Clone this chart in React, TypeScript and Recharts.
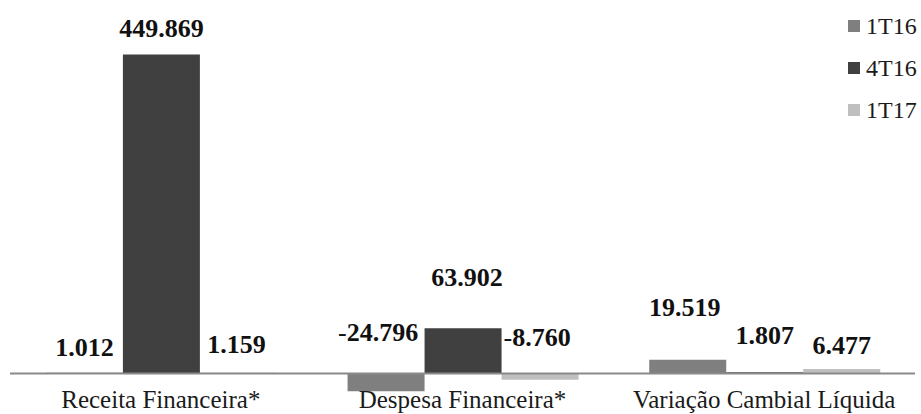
import React from "react";
import {
  BarChart,
  Bar,
  XAxis,
  YAxis,
  Legend,
  ReferenceLine,
  LabelList,
} from "recharts";

// values in R$ thousands (labels use pt-BR thousands dots)
const categories = [
  "Receita Financeira*",
  "Despesa Financeira*",
  "Variação Cambial Líquida",
];
const seriesNames = ["1T16", "4T16", "1T17"];
const values1T16 = [1012, -24796, 19519];
const values4T16 = [449869, 63902, 1807];
const values1T17 = [1159, -8760, 6477];

const data = categories.map((name, i) => ({
  name,
  t1T16: values1T16[i],
  t4T16: values4T16[i],
  t1T17: values1T17[i],
}));

const SERIF = '"Liberation Serif", "Times New Roman", serif';

// manual label placement, like the original (pixels above bar top / zero line)
const LABEL_LIFT = [
  [26, 42, 53],
  [27, 51, 37],
  [29, 37, 24],
];
const LABEL_SHIFT = [
  [0, -8, -3],
  [0, 4, 0],
  [-2, -3, 0],
];

const fmt = (v: number) =>
  Math.abs(v)
    .toString()
    .replace(/\B(?=(\d{3})+(?!\d))/g, ".");

const makeLabel = (s: number) => (props: any) => {
  const vb = props.viewBox || {};
  const x = props.x ?? vb.x;
  const y = props.y ?? vb.y;
  const w = props.width ?? vb.width;
  const h = props.height ?? vb.height;
  const v = Number(props.value);
  const i = props.index ?? 0;
  const top = Math.min(y, y + h);
  const cy = top - LABEL_LIFT[s][i];
  const cx = x + w / 2 + LABEL_SHIFT[s][i];
  return (
    <text
      x={cx}
      y={cy + 9}
      textAnchor="middle"
      fontFamily={SERIF}
      fontSize={26}
      fontWeight="bold"
      fill="#111"
    >
      {v < 0 && <tspan fontWeight="normal">-</tspan>}
      <tspan>{fmt(v)}</tspan>
    </text>
  );
};

const CategoryTick = (props: any) => {
  const { x, y, payload } = props;
  return (
    <text
      x={x}
      y={y}
      dy={-1}
      textAnchor="middle"
      fontFamily={SERIF}
      fontSize={25}
      fill="#1a1a1a"
    >
      {payload.value}
    </text>
  );
};

const LegendBox = (props: any) => {
  const items = [...(props.payload || [])].sort(
    (a: any, b: any) => seriesNames.indexOf(a.value) - seriesNames.indexOf(b.value)
  );
  return (
    <div style={{ fontFamily: SERIF, fontSize: 24, color: "#1a1a1a" }}>
      {items.map((item: any) => (
        <div
          key={item.value}
          style={{ display: "flex", alignItems: "center", height: 42 }}
        >
          <span
            style={{
              width: 12,
              height: 12,
              background: item.color,
              marginRight: 6,
              display: "inline-block",
            }}
          />
          <span>{item.value}</span>
        </div>
      ))}
    </div>
  );
};

const App: React.FC = () => {
  return (
    <div
      style={{
        position: "absolute",
        left: 0,
        top: 0,
        width: 921,
        height: 414,
        background: "#fff",
      }}
    >
      <BarChart
        width={921}
        height={414}
        data={data}
        margin={{ top: 19, right: 6, left: 10, bottom: 0 }}
        barCategoryGap="11.9%"
        barGap={0}
      >
        <XAxis
          dataKey="name"
          axisLine={false}
          tickLine={false}
          tickSize={0}
          tickMargin={0}
          height={5}
          interval={0}
          tick={<CategoryTick />}
        />
        <YAxis hide domain={[-50000, 500000]} allowDataOverflow />
        <Legend
          layout="vertical"
          align="center"
          verticalAlign="middle"
          wrapperStyle={{ left: 848, top: 5, width: 73 }}
          content={<LegendBox />}
        />
        <Bar dataKey="t1T16" name={seriesNames[0]} fill="#7f7f7f" isAnimationActive={false}>
          <LabelList dataKey="t1T16" content={makeLabel(0)} />
        </Bar>
        <Bar dataKey="t4T16" name={seriesNames[1]} fill="#404040" isAnimationActive={false}>
          <LabelList dataKey="t4T16" content={makeLabel(1)} />
        </Bar>
        <Bar dataKey="t1T17" name={seriesNames[2]} fill="#bfbfbf" isAnimationActive={false}>
          <LabelList dataKey="t1T17" content={makeLabel(2)} />
        </Bar>
        <ReferenceLine y={0} stroke="#898989" strokeWidth={2} />
      </BarChart>
    </div>
  );
};

export default App;
